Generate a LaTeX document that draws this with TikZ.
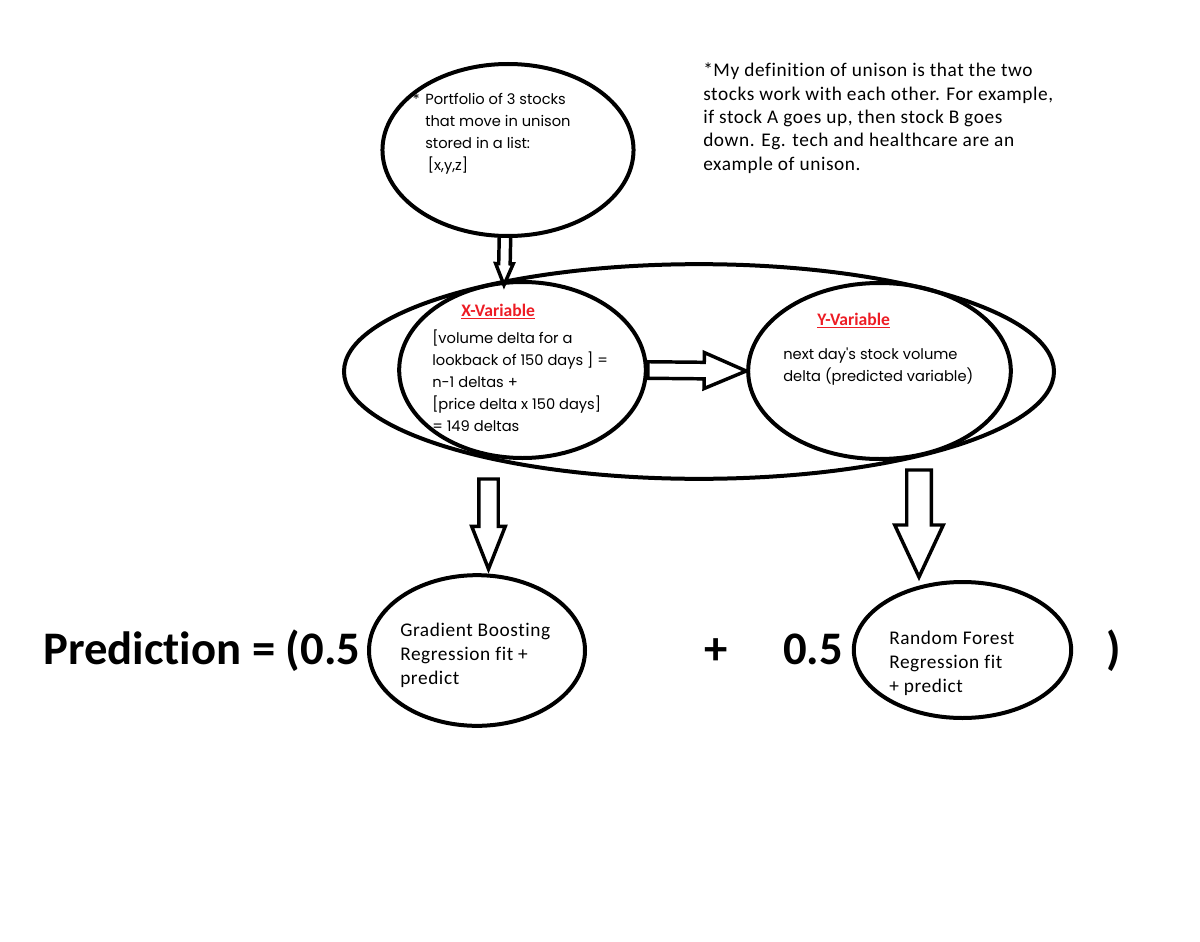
\documentclass[tikz,border=0pt]{standalone}
\usepackage{fontspec}
\setmainfont{Carlito}[Ligatures={NoCommon,NoContextual}]
\newfontfamily\spacedfont{Carlito}[Ligatures={NoCommon,NoContextual},LetterSpace=3]
\newfontfamily\poppinsfont{Poppins}
\usetikzlibrary{calc,shapes.geometric}
\definecolor{varred}{RGB}{237,28,36}
\tikzset{
  oval/.style={ellipse, draw=black, line width=3pt, inner sep=0pt},
  hollow/.style={draw=black, line width=2.6pt, line join=miter},
  notetext/.style={font=\spacedfont\fontsize{14.5}{17.5}\selectfont, align=left, inner sep=0pt},
  thintext/.style={font=\poppinsfont\fontsize{11}{16.5}\selectfont, align=left, inner sep=0pt},
  modeltext/.style={font=\spacedfont\fontsize{14.5}{18}\selectfont, align=left, inner sep=0pt},
  varlabel/.style={font=\bfseries\fontsize{13.2}{15}\selectfont, text=varred, inner sep=0pt},
  bigtext/.style={font=\bfseries\fontsize{35}{40}\selectfont, inner sep=0pt}
}
% start, tip, shaft half width, head half width, head length
\newcommand\hollowarrow[5]{%
  \coordinate (hb) at ($(#2)!#5!(#1)$);
  \draw[hollow] ($(#1)!#3!90:(#2)$) -- ($(hb)!#3!90:(#2)$) -- ($(hb)!#4!90:(#2)$)
    -- (#2) -- ($(hb)!#4!-90:(#2)$) -- ($(hb)!#3!-90:(#2)$) -- ($(#1)!#3!-90:(#2)$) -- cycle;
}

\begin{document}
\begin{tikzpicture}[x=0.75pt,y=-0.75pt]
  \useasboundingbox (0,0) rectangle (1200,942);

  \node[oval,minimum width=188.3pt,minimum height=129pt] (portfolio) at (508,150) {};
  \node[thintext,anchor=north west] (portfoliolbl) at (425,93)
    {Portfolio of 3 stocks\\that move in unison\\stored in a list:\\\hspace{2pt}[x,y,z]};
  \node[thintext,anchor=north east] (star) at (420,93) {*};

  \node[notetext,anchor=north west] (unison) at (703,63)
    {*My definition of unison is that the two\\stocks work with each other. For example,\\if stock A goes up, then stock B goes\\down. Eg. tech and healthcare are an\\example of unison.};

  \node[oval,minimum width=532.5pt,minimum height=161pt] (pairs) at (699,371.5) {};
  \node[oval,minimum width=185pt,minimum height=132pt] (xvar) at (522.5,370) {};
  \node[oval,minimum width=197pt,minimum height=132pt] (yvar) at (879.5,371) {};

  \node[varlabel,anchor=base west] (xlbl) at (461,316) {\underline{X-Variable}};
  \node[thintext,anchor=north west] (xtext) at (432,330)
    {{}[volume delta for a\\lookback of 150 days ] =\\n-1 deltas +\\{}[price delta x 150 days]\\= 149 deltas};
  \node[varlabel,anchor=base west] (ylbl) at (817,325) {\underline{Y-Variable}};
  \node[thintext,anchor=north west] (ytext) at (783,348)
    {next day's stock volume\\delta (predicted variable)};

  \node[oval,minimum width=162pt,minimum height=113pt] (gradient) at (477,650.5) {};
  \node[modeltext,anchor=north west] (gradientlbl) at (400,623)
    {Gradient Boosting\\Regression fit +\\predict};
  \node[oval,minimum width=163pt,minimum height=102pt] (forest) at (962.5,650) {};
  \node[modeltext,anchor=north west] (forestlbl) at (889,631)
    {Random Forest\\Regression fit\\+ predict};

  \node[bigtext,anchor=base west] (pred) at (43,664) {Prediction = (0.5};
  \node[bigtext,anchor=base] (plus) at (716,664) {+};
  \node[bigtext,anchor=base west] (weight) at (783,664) {0.5};
  \node[bigtext,anchor=base west] (closeparen) at (1106,664) {)};

  \coordinate (topstart) at (505,236);
  \coordinate (toptip) at (504,285);
  \coordinate (gbstart) at (488.5,479);
  \coordinate (gbtip) at (488.5,569);
  \coordinate (rfstart) at (919,470);
  \coordinate (rftip) at (919,577);

  \hollowarrow{topstart}{toptip}{4.3pt}{6.6pt}{16pt}
  \hollowarrow{xvar.east}{yvar.west}{6.2pt}{13.5pt}{31.5pt}
  \hollowarrow{gbstart}{gbtip}{7.3pt}{12.6pt}{32pt}
  \hollowarrow{rfstart}{rftip}{9.2pt}{18.2pt}{39pt}
\end{tikzpicture}
\end{document}
